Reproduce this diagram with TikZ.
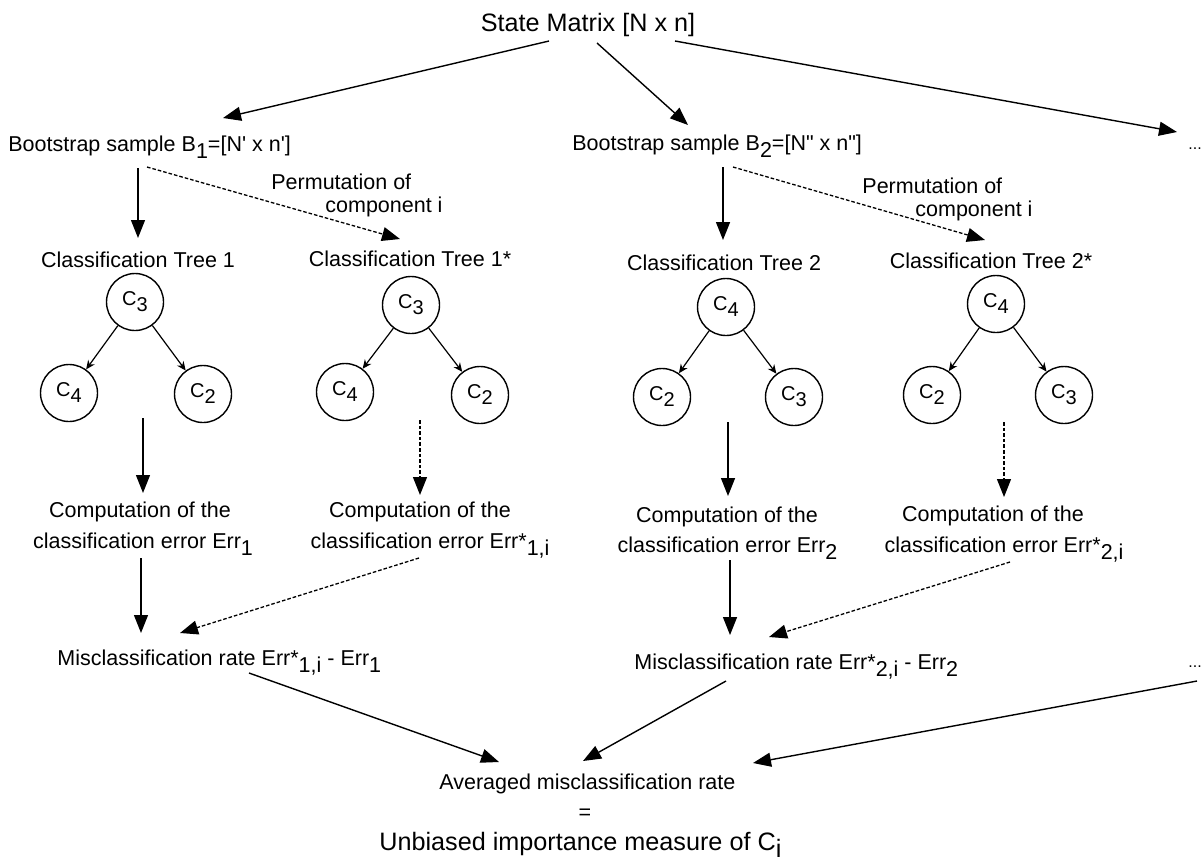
\documentclass[tikz,border=0pt]{standalone}
\usepackage{fontspec}
\setmainfont{Liberation Sans}
\usepackage{graphicx}
\usetikzlibrary{calc,arrows.meta}
\newcommand\dn[1]{\raisebox{-3.5pt}{#1}}
\newcommand\cdn[1]{\raisebox{-3pt}{#1}}
\tikzset{
  lbl/.style={font=\fontsize{10.75pt}{13pt}\selectfont, inner sep=0pt},
  big/.style={font=\fontsize{12.6pt}{15pt}\selectfont, inner sep=0pt},
  dots/.style={font=\fontsize{8pt}{9pt}\selectfont, inner sep=0pt},
  cnode/.style={circle, draw, line width=0.7pt, minimum size=28.5pt, inner sep=0pt, font=\fontsize{10pt}{11pt}\selectfont},
  arr/.style={-{Triangle[length=9pt,width=7pt]}, line width=0.7pt},
  darr/.style={-{Triangle[length=9pt,width=7pt]}, line width=0.65pt, dash pattern=on 1.8pt off 1pt},
  tarr/.style={-{Stealth[length=4.5pt,width=4pt]}, line width=0.6pt}
}
\begin{document}
\begin{tikzpicture}[x=0.5pt,y=-0.5pt]
\useasboundingbox (0,0) rectangle (1203,863);
% top
\node[big,anchor=base] (sm) at (588,31) {State Matrix [N x n]};
\node[lbl,anchor=base west] (b1) at (8,151) {Bootstrap sample B\dn{1}=[N\textquotesingle{} x n\textquotesingle]};
\node[lbl,anchor=base west] (b2) at (572,150) {Bootstrap sample B\dn{2}=[N\textquotedbl{} x n\textquotedbl]};
\node[dots,anchor=base west] (d1) at (1188,149) {...};
\node[lbl,anchor=base west] (p1a) at (271,189) {Permutation of};
\node[lbl,anchor=base west] (p1b) at (325,212) {component i};
\node[lbl,anchor=base west] (p2a) at (862,193) {Permutation of};
\node[lbl,anchor=base west] (p2b) at (915,216) {component i};
% tree labels
\node[lbl,anchor=base] (t1) at (138,267) {Classification Tree 1};
\node[lbl,anchor=base] (t1s) at (410,266) {Classification Tree 1*};
\node[lbl,anchor=base] (t2) at (724,270) {Classification Tree 2};
\node[lbl,anchor=base] (t2s) at (991,268) {Classification Tree 2*};
% circles
\node[cnode] (r1) at (135,302) {C\cdn{3}};
\node[cnode] (l1a) at (69,393) {C\cdn{4}};
\node[cnode] (l1b) at (203,394) {C\cdn{2}};
\node[cnode] (r1s) at (411,305) {C\cdn{3}};
\node[cnode] (l1sa) at (345,392) {C\cdn{4}};
\node[cnode] (l1sb) at (480,395) {C\cdn{2}};
\node[cnode] (r2) at (726,307) {C\cdn{4}};
\node[cnode] (l2a) at (662,397) {C\cdn{2}};
\node[cnode] (l2b) at (794,397) {C\cdn{3}};
\node[cnode] (r2s) at (996,304) {C\cdn{4}};
\node[cnode] (l2sa) at (932,395) {C\cdn{2}};
\node[cnode] (l2sb) at (1064,395) {C\cdn{3}};
% computation
\node[lbl,anchor=base] (c1a) at (140,517) {Computation of the};
\node[lbl,anchor=base] (c1b) at (143,548) {classification error Err\dn{1}};
\node[lbl,anchor=base] (c1sa) at (420,517) {Computation of the};
\node[lbl,anchor=base] (c1sb) at (430,548) {classification error Err*\dn{1,i}};
\node[lbl,anchor=base] (c2a) at (727,522) {Computation of the};
\node[lbl,anchor=base] (c2b) at (727.5,552) {classification error Err\dn{2}};
\node[lbl,anchor=base] (c2sa) at (993,521) {Computation of the};
\node[lbl,anchor=base] (c2sb) at (1004,552) {classification error Err*\dn{2,i}};
% misclassification
\node[lbl,anchor=base west] (m1) at (57,665) {Misclassification rate Err*\dn{1,i} - Err\dn{1}};
\node[lbl,anchor=base west] (m2) at (634,669) {Misclassification rate Err*\dn{2,i} - Err\dn{2}};
\node[dots,anchor=base west] (d2) at (1188,667) {...};
% bottom
\node[lbl,anchor=base west] (avg) at (439,789) {Averaged misclassification rate};
\node[lbl,anchor=base] (eq) at (585,819) {=};
\node[big,anchor=base west] (unb) at (379,850) {Unbiased importance measure of C\dn{i}};
% arrows from state matrix
\draw[arr] ($(sm.base)+(-39,10)$) -- ($(b1.base west)+(215,-33)$);
\draw[arr] ($(sm.base)+(9,12)$) -- ($(b2.base west)+(116,-25)$);
\draw[arr] ($(sm.base)+(87,10)$) -- ($(d1.base west)+(-11,-17)$);
% bootstrap to trees
\draw[arr] ($(b1.base west)+(130,17)$) -- ($(t1.base)+(0,-29)$);
\draw[darr] ($(b1.base west)+(139,16)$) -- ($(t1s.base)+(-10,-27)$);
\draw[arr] ($(b2.base west)+(151,17)$) -- ($(t2.base)+(-1,-30)$);
\draw[darr] ($(b2.base west)+(161,17)$) -- ($(t2s.base)+(-6,-28)$);
% tree edges
\draw[tarr] (r1) -- (l1a);
\draw[tarr] (r1) -- (l1b);
\draw[tarr] (r1s) -- (l1sa);
\draw[tarr] (r1s) -- (l1sb);
\draw[tarr] (r2) -- (l2a);
\draw[tarr] (r2) -- (l2b);
\draw[tarr] (r2s) -- (l2sa);
\draw[tarr] (r2s) -- (l2sb);
% trees to computation
\draw[arr] ($(r1)+(8,116)$) -- ($(c1a.base)+(3,-24)$);
\draw[darr] ($(r1s)+(9,115)$) -- ($(c1sa.base)+(0,-22)$);
\draw[arr] ($(r2)+(2,115)$) -- ($(c2a.base)+(1,-26)$);
\draw[darr] ($(r2s)+(8,118)$) -- ($(c2sa.base)+(11,-24)$);
% computation to misclassification
\draw[arr] ($(c1b.base)+(-2,10)$) -- ($(m1.base west)+(84,-32)$);
\draw[darr] ($(c1sb.base)+(-11,10)$) -- ($(m1.base west)+(123,-32)$);
\draw[arr] ($(c2b.base)+(2.5,8)$) -- ($(m2.base west)+(96,-34)$);
\draw[darr] ($(c2sb.base)+(6,10)$) -- ($(m2.base west)+(135,-32)$);
% misclassification to averaged
\draw[arr] ($(m1.base west)+(192,8)$) -- ($(avg.base west)+(60,-27)$);
\draw[arr] ($(m2.base west)+(92,12)$) -- ($(avg.base west)+(144,-28)$);
\draw[arr] ($(d2.base west)+(9,14)$) -- ($(avg.base west)+(314,-26)$);
\end{tikzpicture}
\end{document}
